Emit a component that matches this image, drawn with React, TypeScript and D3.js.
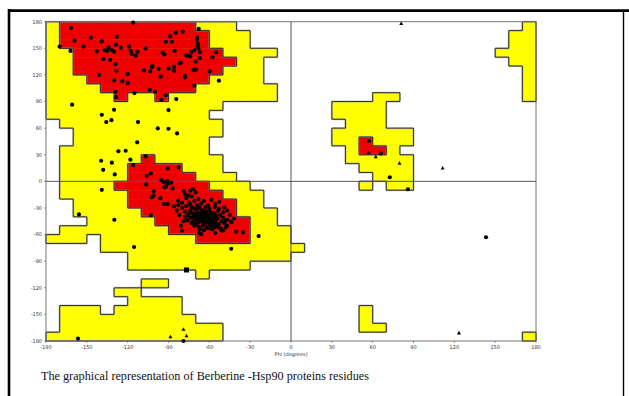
import React from "react";
import * as d3 from "d3";

// Each row: top psi of a 10-degree band, and phi spans [start, end] (allowed = yellow incl. core)
const allowedRows: [number, [number, number][]][] = [
  [180, [[-180, -40], [170, 180]]],
  [170, [[-180, -30], [160, 180]]],
  [160, [[-180, -30], [160, 180]]],
  [150, [[-180, -10], [150, 180]]],
  [140, [[-180, -20], [160, 180]]],
  [130, [[-180, -20], [170, 180]]],
  [120, [[-180, -20], [170, 180]]],
  [110, [[-180, -10], [170, 180]]],
  [100, [[-180, -10], [60, 80], [170, 180]]],
  [90, [[-180, -50], [30, 70]]],
  [80, [[-180, -60], [30, 70]]],
  [70, [[-170, -50], [40, 70]]],
  [60, [[-160, -50], [30, 90]]],
  [50, [[-160, -60], [30, 90]]],
  [40, [[-170, -60], [40, 80]]],
  [30, [[-170, -50], [40, 90]]],
  [20, [[-170, -50], [50, 90]]],
  [10, [[-170, -40], [60, 90]]],
  [0, [[-170, -30], [50, 60], [70, 90]]],
  [-10, [[-170, -20]]],
  [-20, [[-160, -20]]],
  [-30, [[-160, -10]]],
  [-40, [[-150, -10]]],
  [-50, [[-170, 0]]],
  [-60, [[-180, -150], [-140, 0]]],
  [-70, [[-140, 10]]],
  [-80, [[-120, 0]]],
  [-90, [[-120, -30]]],
  [-100, [[-70, -60]]],
  [-110, [[-110, -90]]],
  [-120, [[-130, -110]]],
  [-130, [[-120, -80]]],
  [-140, [[-170, -140], [-130, -80], [50, 60]]],
  [-150, [[-170, -70], [50, 60]]],
  [-160, [[-170, -50], [50, 70]]],
  [-170, [[-180, -50], [170, 180]]],
];

// Core (red) rows
const coreRows: [number, [number, number][]][] = [
  [180, [[-170, -70]]],
  [170, [[-170, -60]]],
  [160, [[-170, -60]]],
  [150, [[-160, -50]]],
  [140, [[-160, -40]]],
  [130, [[-160, -50]]],
  [120, [[-150, -60]]],
  [110, [[-140, -70]]],
  [100, [[-130, -120], [-100, -90]]],
  [50, [[50, 60]]],
  [40, [[50, 70]]],
  [30, [[-110, -100]]],
  [20, [[-120, -80]]],
  [10, [[-120, -70]]],
  [0, [[-130, -60]]],
  [-10, [[-120, -50]]],
  [-20, [[-120, -40]]],
  [-30, [[-110, -40]]],
  [-40, [[-100, -30]]],
  [-50, [[-90, -30]]],
  [-60, [[-70, -30]]],
];

const generalResidues: [number, number][] = [
  [-161.7, 172.9], [-159, 158.6], [-170, 152], [-162, 147], [-152.5, 152], [-147, 162], [-142.8, 146.5],
  [-137, 148], [-133, 137], [-131.6, 148], [-130, 146], [-128, 163], [-128.6, 154], [-129, 132],
  [-128.3, 124.7], [-130, 114], [-129, 101], [-128.6, 95], [-141, 120], [-124, 113], [-120, 111],
  [-120, 121], [-119, 152], [-117.7, 147], [-114, 141.7], [-112.7, 146], [-115, 99.5], [-106.8, 150],
  [-103.5, 124], [-102.3, 129], [-103.8, 103], [-100, 101], [-101.7, 130], [-97.3, 126.6], [-95.8, 118],
  [-95.2, 92], [-92, 97], [-94.4, 145], [-93, 143], [-92, 157.4], [-88.8, 163.5], [-87.6, 157.4],
  [-85.5, 147], [-86, 124.7], [-86, 129], [-81.6, 133], [-81, 134], [-79.6, 168.7], [-84.6, 167.6],
  [-78, 117], [-78, 119], [-76, 141.6], [-74, 141], [-73, 146], [-71.6, 125.5], [-70, 126],
  [-66.9, 145.8], [-71, 148], [-69.3, 159.7], [-68.7, 153], [-68.4, 155], [-67.8, 172], [-70, 135],
  [-71, 107.8], [-66.9, 139], [-59.8, 124], [-57.7, 139.8], [-55, 145.4], [-53, 113.5], [-116, 178.9],
  [-139, 157.8], [-135, 147], [-134, 151], [-137.8, 138], [-125, 150.7], [-117, 143.5], [-69, 162],
  [-68, 150], [-77, 142], [-108, 125], [-90, 127],
  [-160.8, 86.4], [-139, 75], [-135.7, 66.8], [-131.9, 69], [-130, 80.7], [-112.4, 66.8], [-113, 44],
  [-121.5, 34.5], [-126.8, 33.8], [-118, 24.4], [-116, 18.3], [-139.5, 23.2], [-138, 13], [-131.6, 21],
  [-129.5, 7.8], [-97.9, 59.7], [-90, 59.3], [-83.7, 54], [-90, 80.4], [-84.3, 92.8],
  [-139, -9.5], [-155.8, -37.3], [-129.8, -43.3], [-115.3, -74], [-43.9, -76], [-23.8, -61.7],
  [-106.8, 28.1], [-106, 6.3], [-103, 8.9], [-106.5, -3.5], [-95.2, 1.4], [-93.5, -0.9], [-91, 0.3],
  [-90.5, -2.7], [-88, -1.6], [-87, -8], [-91.7, -5.3], [-93, -6.8], [-100.8, -11.3], [-101, -16],
  [-102.3, -18], [-96, -19], [-93.5, -25.6], [-90.5, -25.6], [-83, -22], [-82.7, -26.7], [-82.5, 15.7],
  [-90.5, 14.5], [-103, -38], [-78.7, -11.3], [-77.8, -14.7], [-75.7, -16], [-74, -10.6], [-72, -8.7],
  [-70, -12.5], [-80, -55.7], [-67.5, -58.3], [-66, -59.5], [-58.6, -20.8], [-55.7, -25.6], [-52.7, -23],
  [-50, -55.7], [-55.7, -58.3], [-46.8, -43.3], [-40.3, -56.8], [-35.3, -57.6], [-53.6, -33.2], [-49.2, -29.4],
  [-80, -30], [-78, -34], [-77, -28], [-76, -38], [-75, -24], [-74, -33], [-74, -41], [-73, -29], [-72, -36],
  [-72, -45], [-71, -22], [-71, -31], [-70, -39], [-70, -48], [-69, -27], [-69, -35], [-68, -42], [-68, -51],
  [-67, -30], [-67, -38], [-66, -45], [-66, -25], [-65, -33], [-65, -41], [-65, -50], [-64, -36], [-64, -44],
  [-63, -29], [-63, -39], [-63, -47], [-62, -34], [-62, -42], [-62, -52], [-61, -37], [-61, -45], [-60, -31],
  [-60, -40], [-60, -48], [-59, -35], [-59, -43], [-58, -38], [-58, -46], [-57, -41], [-57, -50], [-56, -36],
  [-56, -44], [-55, -39], [-55, -47], [-54, -42], [-53, -48], [-52, -38], [-51, -45], [-50, -41], [-49, -47],
  [-48, -44], [-47, -50], [-61, -53], [-64, -55], [-67, -54], [-58, -54], [-70, -43], [-73, -47], [-76, -44],
  [-78, -40], [-66, -35], [-64, -40], [-62, -38], [-60, -44], [-59, -39], [-63, -43], [-61, -41], [-65, -37],
  [-57, -45], [-68, -46], [-71, -50], [-54, -51], [-52, -53], [-62, -46], [-60, -36], [-58, -42], [-66, -40],
  [-64, -48], [-69, -38], [-67, -44], [-63, -34], [-72, -40], [-75, -36], [-77, -19], [-73, -17], [-68, -20],
  [-80, -24], [-84, -33], [-82, -38], [-86, -28], [-79, -45], [-81, -50], [-45, -38], [-47, -33], [-44, -46],
  [-50, -35], [-53, -31], [-56, -29], [-61, -27], [-64, -22], [-59, -50], [-56, -52], [-69, -31], [-74, -26],
  [-48, -52], [-51, -55], [-42, -42],
  [57.2, 45.5], [66, 31.3], [72.6, 4.6], [85.9, -8.9], [143.3, -63],
  [-156.5, -177.3], [-79, -180],
];

const glycineResidues: [number, number][] = [
  [57, 32.4], [62.3, 27.5], [79.7, 20.4], [111.4, 14.8], [81, 177.8], [123.4, -171],
  [-88.6, -175.4], [-79, -167], [-76.8, -174.3],
];

const squareResidues: [number, number][] = [[-76.8, -99.9]];

const phiTicks = [-180, -150, -120, -90, -60, -30, 0, 30, 60, 90, 120, 150, 180];
const psiTicks = [-180, -150, -120, -90, -60, -30, 0, 30, 60, 90, 120, 150, 180];

const xAxisTitle = "Phi (degrees)";
const caption = "The graphical representation of Berberine -Hsp90 proteins residues";

export default function App() {
  const x = d3.scaleLinear().domain([-180, 180]).range([46, 536]);
  const y = d3.scaleLinear().domain([-180, 180]).range([341, 21.7]);

  // Build class grid 36x36: grid[j][i], j = row from top (psi 180), i = col from phi -180
  const grid: number[][] = Array.from({ length: 36 }, () => new Array(36).fill(0));
  const fill = (rows: [number, [number, number][]][], cls: number) => {
    rows.forEach(([psiTop, spans]) => {
      const j = Math.round((180 - psiTop) / 10);
      spans.forEach(([a, b]) => {
        for (let i = Math.round((a + 180) / 10); i < Math.round((b + 180) / 10); i++) grid[j][i] = cls;
      });
    });
  };
  fill(allowedRows, 1);
  fill(coreRows, 2);

  const cls = (i: number, j: number) => (i < 0 || i > 35 || j < 0 || j > 35 ? 0 : grid[j][i]);
  const phiAt = (i: number) => -180 + i * 10;
  const psiAt = (j: number) => 180 - j * 10;

  let outline = "";
  for (let j = -1; j < 36; j++) {
    for (let i = -1; i < 36; i++) {
      const c = cls(i, j);
      if (j >= 0 && c !== cls(i + 1, j)) {
        outline += `M${x(phiAt(i + 1))},${y(psiAt(j))}V${y(psiAt(j + 1))}`;
      }
      if (i >= 0 && c !== cls(i, j + 1)) {
        outline += `M${x(phiAt(i))},${y(psiAt(j + 1))}H${x(phiAt(i + 1))}`;
      }
    }
  }

  const runs = (rows: [number, [number, number][]][]) =>
    rows.flatMap(([psiTop, spans]) =>
      spans.map(([a, b]) => ({ psiTop, a, b }))
    );

  const tri = (cx: number, cy: number) => `M${cx},${cy - 2.2}L${cx + 2},${cy + 1.4}L${cx - 2},${cy + 1.4}Z`;

  return (
    <svg
      width={629}
      height={396}
      style={{ position: "absolute", left: 0, top: 0, background: "#fff" }}
      fontFamily="DejaVu Sans, sans-serif"
    >
      <rect x={0} y={0} width={629} height={396} fill="#fff" />
      {/* outer frame */}
      <line x1={9} y1={9} x2={9} y2={396} stroke="#000" strokeWidth={2.6} />
      <line x1={8} y1={10.6} x2={629} y2={10.6} stroke="#000" strokeWidth={2.8} />
      <line x1={623.5} y1={10} x2={623.5} y2={396} stroke="#000" strokeWidth={1.4} />

      {/* regions */}
      {runs(allowedRows).map((r, k) => (
        <rect
          key={"a" + k}
          x={x(r.a)}
          y={y(r.psiTop)}
          width={x(r.b) - x(r.a)}
          height={y(r.psiTop - 10) - y(r.psiTop) + 0.4}
          fill="#ffff00"
        />
      ))}
      {runs(coreRows).map((r, k) => (
        <rect
          key={"c" + k}
          x={x(r.a)}
          y={y(r.psiTop)}
          width={x(r.b) - x(r.a)}
          height={y(r.psiTop - 10) - y(r.psiTop) + 0.4}
          fill="#ee0000"
        />
      ))}
      <path d={outline} fill="none" stroke="#999" strokeWidth={2} strokeOpacity={0.6} />
      <path d={outline} fill="none" stroke="#222" strokeWidth={0.9} />

      {/* plot frame and zero axes */}
      <rect x={x(-180)} y={y(180)} width={x(180) - x(-180)} height={y(-180) - y(180)} fill="none" stroke="#777" strokeWidth={1} />
      <line x1={x(0)} y1={y(180)} x2={x(0)} y2={y(-180)} stroke="#555" strokeWidth={1} />
      <line x1={x(-180)} y1={y(0)} x2={x(180)} y2={y(0)} stroke="#555" strokeWidth={1} />

      {/* ticks */}
      {phiTicks.map((t) => (
        <g key={"px" + t}>
          <line x1={x(t)} y1={y(-180)} x2={x(t)} y2={y(-180) + 2} stroke="#555" strokeWidth={0.6} />
          <text x={x(t)} y={y(-180) + 7.5} fontSize={5} textAnchor="middle" fill="#333">
            {t}
          </text>
        </g>
      ))}
      {psiTicks.map((t) => (
        <g key={"py" + t}>
          <line x1={x(-180) - 2} y1={y(t)} x2={x(-180)} y2={y(t)} stroke="#555" strokeWidth={0.6} />
          <text x={x(-180) - 4} y={y(t) + 1.8} fontSize={5} textAnchor="end" fill="#333">
            {t}
          </text>
        </g>
      ))}
      <text x={x(0)} y={y(-180) + 15} fontSize={5} textAnchor="middle" fill="#333">
        {xAxisTitle}
      </text>

      {/* residues */}
      {generalResidues.map(([p, s], k) => (
        <circle key={"g" + k} cx={x(p)} cy={y(s)} r={2.1} fill="#000" />
      ))}
      {glycineResidues.map(([p, s], k) => (
        <path key={"t" + k} d={tri(x(p), y(s))} fill="#000" />
      ))}
      {squareResidues.map(([p, s], k) => (
        <rect key={"s" + k} x={x(p) - 2.5} y={y(s) - 2.5} width={5} height={5} fill="#000" />
      ))}

      <text x={41} y={380} fontSize={12.2} fontFamily="Liberation Serif, Times New Roman, serif" fill="#111">
        {caption}
      </text>
    </svg>
  );
}
